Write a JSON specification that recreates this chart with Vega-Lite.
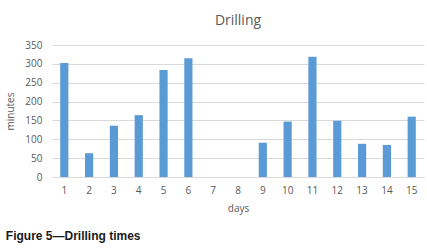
{
  "$schema": "https://vega.github.io/schema/vega-lite/v6.json",
  "padding": {"left": 5, "top": 14, "right": 1, "bottom": 4},
  "background": "white",
  "title": {"text": "Figure 5\u2014Drilling times", "orient": "bottom", "anchor": "start", "font": "Liberation Sans", "fontSize": 12, "fontWeight": "bold", "color": "#1a1a1a", "offset": 18},
  "config": {"view": {"stroke": null}, "concat": {"spacing": 0}},
  "vconcat": [
    {
      "width": 372,
      "height": 132,
      "title": {"text": "Drilling", "font": "Open Sans", "fontSize": 14, "fontWeight": "normal", "color": "#595959", "offset": 12},
      "data": {"values": [
        {"day": "1", "minutes": 302},
        {"day": "2", "minutes": 63},
        {"day": "3", "minutes": 136},
        {"day": "4", "minutes": 164},
        {"day": "5", "minutes": 284},
        {"day": "6", "minutes": 315},
        {"day": "7", "minutes": 0},
        {"day": "8", "minutes": 0},
        {"day": "9", "minutes": 91},
        {"day": "10", "minutes": 147},
        {"day": "11", "minutes": 319},
        {"day": "12", "minutes": 149},
        {"day": "13", "minutes": 88},
        {"day": "14", "minutes": 85},
        {"day": "15", "minutes": 160}
      ]},
      "mark": {"type": "bar", "color": "#5B9BD5"},
      "encoding": {
        "x": {"field": "day", "type": "ordinal", "sort": null,
          "scale": {"paddingInner": 0.67, "paddingOuter": 0.33},
          "axis": {"title": "days", "labelAngle": 0, "ticks": false, "domain": true, "domainColor": "#D9D9D9", "labelColor": "#595959", "labelFont": "Open Sans", "labelFontSize": 10, "labelPadding": 8, "titleFont": "Open Sans", "titleFontSize": 10, "titleFontWeight": "normal", "titleColor": "#595959", "titlePadding": 8}},
        "y": {"field": "minutes", "type": "quantitative",
          "scale": {"domain": [0, 350]},
          "axis": {"title": "minutes", "values": [0, 50, 100, 150, 200, 250, 300, 350], "ticks": false, "domain": false, "gridColor": "#D9D9D9", "labelColor": "#595959", "labelFont": "Open Sans", "labelFontSize": 10, "labelPadding": 10, "titleFont": "Open Sans", "titleFontSize": 10, "titleFontWeight": "normal", "titleColor": "#595959", "titlePadding": 9}}
      }
    }
  ]
}
